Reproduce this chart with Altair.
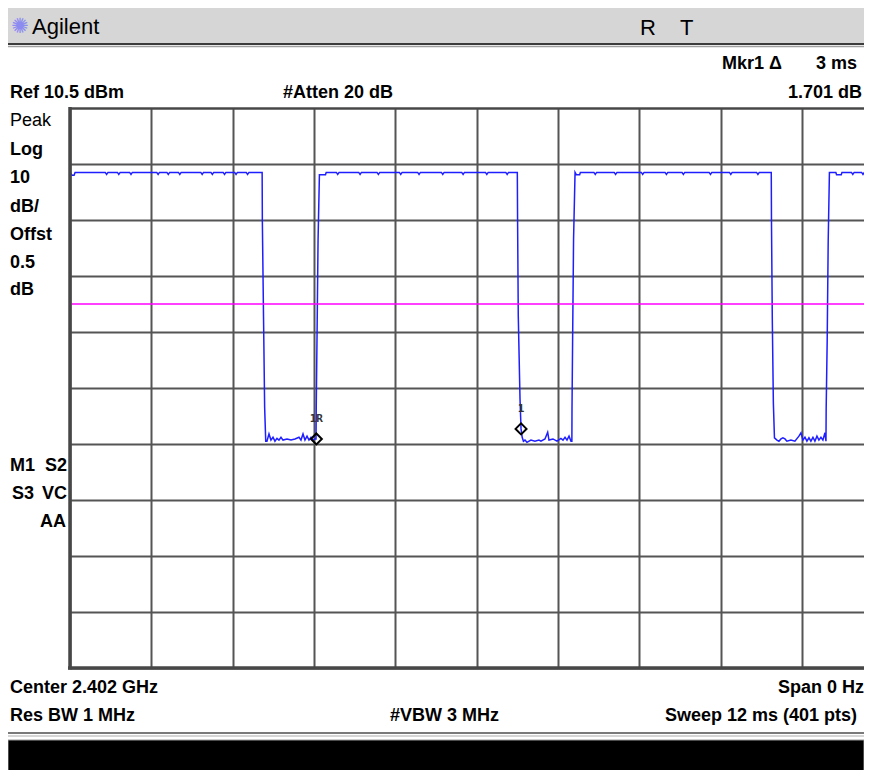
import altair as alt
import pandas as pd

# ---------------- data ----------------
TRACE_MS = [
    0.000, 0.030, 0.060, 0.075, 0.520, 0.540, 0.560, 0.700, 0.720, 0.740,
    0.880, 0.900, 0.920, 1.280, 1.300, 1.320, 1.430, 1.450, 1.470, 1.600,
    1.620, 1.640, 1.930, 1.950, 1.970, 2.080, 2.100, 2.120, 2.260, 2.280,
    2.300, 2.430, 2.450, 2.470, 2.600, 2.620, 2.640, 2.835,
    2.838, 2.856, 2.872, 2.888,
    2.906, 2.936, 2.965, 2.995, 3.024, 3.054, 3.083, 3.113, 3.143, 3.202,
    3.261, 3.320, 3.379, 3.408, 3.438, 3.467, 3.497, 3.526, 3.556, 3.585, 3.615,
    3.630, 3.633, 3.644, 3.660, 3.680,
    3.770, 3.780, 3.930, 3.950, 3.970, 4.260, 4.280, 4.300, 4.530, 4.550,
    4.570, 4.860, 4.880, 4.900, 5.130, 5.150, 5.170, 5.480, 5.500, 5.520,
    5.780, 5.800, 5.820, 6.130, 6.150, 6.170, 6.430, 6.450, 6.470, 6.600,
    6.604, 6.614, 6.640, 6.655, 6.672, 6.690,
    6.713, 6.742, 6.801, 6.860, 6.919, 6.949, 7.008, 7.048, 7.067, 7.126,
    7.185, 7.244, 7.274, 7.304, 7.333, 7.363, 7.392,
    7.405, 7.407, 7.416, 7.430, 7.452,
    7.470, 7.520, 7.530, 7.730, 7.750, 7.770, 8.030, 8.050, 8.070, 8.430,
    8.450, 8.470, 8.780, 8.800, 8.820, 9.030, 9.050, 9.070, 9.430, 9.450,
    9.470, 9.730, 9.750, 9.770, 10.130, 10.150, 10.170, 10.347,
    10.350, 10.362, 10.378, 10.394,
    10.431, 10.460, 10.490, 10.519, 10.549, 10.578, 10.637, 10.696, 10.755,
    10.785, 10.814, 10.844, 10.873, 10.903, 10.932, 10.962, 10.991, 11.021,
    11.050, 11.080, 11.109, 11.139, 11.154,
    11.157, 11.172, 11.187, 11.205,
    11.300, 11.310, 11.380, 11.390, 11.530, 11.550, 11.570, 11.680, 11.700,
    11.720, 11.840,
]
TRACE_DBM = [
    -1.0, -1.5, -1.5, -1.0, -1.0, -1.35, -1.0, -1.0, -1.35, -1.0,
    -1.0, -1.35, -1.0, -1.0, -1.35, -1.0, -1.0, -1.35, -1.0, -1.0,
    -1.35, -1.0, -1.0, -1.35, -1.0, -1.0, -1.35, -1.0, -1.0, -1.35,
    -1.0, -1.0, -1.35, -1.0, -1.0, -1.35, -1.0, -1.0,
    -9.6, -27.3, -43.0, -49.0,
    -49.0, -47.7, -48.8, -48.3, -49.0, -48.5, -48.8, -48.3, -48.8, -48.6,
    -48.8, -48.6, -48.3, -48.8, -47.7, -48.8, -48.1, -48.8, -48.3, -48.8, -48.6,
    -48.6, -43.2, -31.3, -13.1, -1.4,
    -1.4, -1.0, -1.0, -1.35, -1.0, -1.0, -1.35, -1.0, -1.0, -1.35,
    -1.0, -1.0, -1.35, -1.0, -1.0, -1.35, -1.0, -1.0, -1.35, -1.0,
    -1.0, -1.35, -1.0, -1.0, -1.35, -1.0, -1.0, -1.35, -1.0, -1.0,
    -9.5, -26.5, -41.5, -46.8, -48.3, -49.0,
    -48.8, -49.2, -48.8, -49.0, -48.8, -49.0, -48.6, -47.4, -48.8, -48.6,
    -49.0, -48.5, -48.8, -48.3, -48.8, -48.1, -49.0,
    -49.0, -43.0, -30.9, -12.9, -1.0,
    -1.4, -1.4, -1.0, -1.0, -1.35, -1.0, -1.0, -1.35, -1.0, -1.0,
    -1.35, -1.0, -1.0, -1.35, -1.0, -1.0, -1.35, -1.0, -1.0, -1.35,
    -1.0, -1.0, -1.35, -1.0, -1.0, -1.35, -1.0, -1.0,
    -9.5, -27.0, -42.2, -48.4,
    -48.8, -49.0, -48.6, -48.4, -48.6, -49.0, -48.8, -49.0, -48.1,
    -47.5, -48.8, -48.3, -49.0, -48.4, -49.0, -48.3, -49.0, -48.1,
    -48.8, -48.3, -48.8, -47.5, -49.0,
    -43.2, -31.1, -13.3, -1.0,
    -1.0, -1.4, -1.4, -1.0, -1.0, -1.35, -1.0, -1.0, -1.35,
    -1.0, -1.0,
]
DISPLAY_LINE_DBM = [-24.5]
MARKER_MS = [3.635, 6.655]
MARKER_DBM = [-48.6, -46.8]
MARKER_LABELS = ["1R", "1"]

REF_LEVEL_DBM = 10.5
DB_PER_DIV = 10
N_DIV = 10
SWEEP_MS = 12
X_GRID_MS = [0, 1.2, 2.4, 3.6, 4.8, 6.0, 7.2, 8.4, 9.6, 10.8]
Y_GRID_DBM = [10.5, 0.5, -9.5, -19.5, -29.5, -39.5, -49.5, -59.5, -69.5, -79.5, -89.5]

# ---------------- layout (page pixels) ----------------
PX0, PY0 = 70, 108          # plot origin on the page
RIGHT = 864                 # right edge of the drawable page area
W, H = RIGHT - PX0, 560     # visible plot area (grid continues past the right edge)
FULL_W = 813.3              # width of the 10 divisions
X_MAX = SWEEP_MS * W / FULL_W
TOTAL_H = 762

FONT = "Liberation Sans, Arial, sans-serif"
FS = 18
GRID = "#555555"


def rx(x):
    return x - PX0


def ry(y):
    return y - PY0


def label(txt, x, y, align="left", size=FS, weight="bold", font=FONT, color="black"):
    return alt.Chart(pd.DataFrame({"t": [txt]})).mark_text(
        align=align, baseline="middle", font=font, fontSize=size,
        fontWeight=weight, color=color
    ).encode(text="t:N", x=alt.value(rx(x)), y=alt.value(ry(y)))


def box(x1, y1, x2, y2, color, stroke=None):
    kw = {"color": color}
    if stroke:
        kw.update(stroke=stroke, strokeWidth=1)
    return alt.Chart(pd.DataFrame({"k": [0]})).mark_rect(**kw).encode(
        x=alt.value(rx(x1)), x2=alt.value(rx(x2)),
        y=alt.value(ry(y1)), y2=alt.value(ry(y2)))


def hline(x1, x2, y, color, width):
    return alt.Chart(pd.DataFrame({"k": [0]})).mark_rule(color=color, strokeWidth=width).encode(
        x=alt.value(rx(x1)), x2=alt.value(rx(x2)), y=alt.value(ry(y)))


def vline(x, y1, y2, color, width):
    return alt.Chart(pd.DataFrame({"k": [0]})).mark_rule(color=color, strokeWidth=width).encode(
        x=alt.value(rx(x)), y=alt.value(ry(y1)), y2=alt.value(ry(y2)))


trace_df = pd.DataFrame({"ms": TRACE_MS, "dbm": TRACE_DBM})
xs = alt.Scale(domain=[0, X_MAX], nice=False, zero=False)
ys = alt.Scale(domain=[REF_LEVEL_DBM - N_DIV * DB_PER_DIV, REF_LEVEL_DBM], nice=False, zero=False)

x_enc = alt.X("ms:Q", scale=xs, axis=alt.Axis(
    values=X_GRID_MS, grid=True, labels=False, ticks=False, domain=False, title=None,
    gridColor=GRID, gridWidth=2, gridOpacity=1))
y_enc = alt.Y("dbm:Q", scale=ys, axis=alt.Axis(
    values=Y_GRID_DBM, grid=True, labels=False, ticks=False, domain=False, title=None,
    gridColor=GRID, gridWidth=2, gridOpacity=1))

trace = alt.Chart(trace_df).mark_line(color="#1e1eff", strokeWidth=1.5, clip=True).encode(
    x=x_enc, y=y_enc, order="ms:Q")

display_line = alt.Chart(pd.DataFrame({"dbm": DISPLAY_LINE_DBM})).mark_rule(
    color="#ff00ff", strokeWidth=1.5).encode(y=alt.Y("dbm:Q", scale=ys))

mk_df = pd.DataFrame({"ms": MARKER_MS, "dbm": MARKER_DBM, "lab": MARKER_LABELS})
markers = alt.Chart(mk_df).mark_point(
    shape="diamond", filled=False, color="black", strokeWidth=2, size=120, opacity=1
).encode(x=alt.X("ms:Q", scale=xs), y=alt.Y("dbm:Q", scale=ys))
marker_text = alt.Chart(mk_df).mark_text(
    dy=-20, font="DejaVu Sans Mono", fontSize=11, fontWeight="bold", color="#333333"
).encode(x=alt.X("ms:Q", scale=xs), y=alt.Y("dbm:Q", scale=ys), text="lab:N")

# frame
frame = [
    vline(70, 107, 669.5, "#474747", 3.5),
    hline(68, RIGHT, 668, "#474747", 3.5),
    hline(70, RIGHT, 108.5, "#474747", 2),
]

# header and footer
decor = [
    box(8, 8, RIGHT, 43, "#d6d6d6"),
    hline(8, RIGHT, 44, "#3c3c3c", 2),
    hline(8, RIGHT, 46.5, "#a0a0a0", 1.5),
    hline(8, RIGHT, 733, "#7a7a7a", 2),
    hline(8, RIGHT, 736, "#c8c8c8", 1.5),
    box(8, 740, RIGHT, 772, "black", stroke="#9a9a9a"),
]

texts = [
    label("\u273a", 20, 27, align="center", size=21, weight="normal",
          font="DejaVu Sans", color="#8c8cf0"),
    label("Agilent", 32, 27, size=22, weight="normal"),
    label("R", 640, 28, size=22, weight="normal"),
    label("T", 680, 28, size=22, weight="normal"),
    label("Mkr1 \u0394", 722, 64),
    label("3 ms", 857, 64, align="right"),
    label("Ref 10.5 dBm", 10, 93),
    label("#Atten 20 dB", 283, 93),
    label("1.701 dB", 862, 93, align="right"),
    label("Peak", 10, 121, weight="normal"),
    label("Log", 10, 150),
    label("10", 10, 178),
    label("dB/", 10, 207),
    label("Offst", 10, 235),
    label("0.5", 10, 263),
    label("dB", 10, 290),
    label("M1", 10, 466),
    label("S2", 67, 466, align="right"),
    label("S3", 12, 494),
    label("VC", 67, 494, align="right"),
    label("AA", 66, 522, align="right"),
    label("Center 2.402 GHz", 10, 688),
    label("Span 0 Hz", RIGHT, 688, align="right"),
    label("Res BW 1 MHz", 10, 716),
    label("#VBW 3 MHz", 390, 716),
    label("Sweep 12 ms (401 pts)", 857, 716, align="right"),
]

chart = alt.layer(
    *decor, trace, display_line, *frame, markers, marker_text, *texts
).properties(
    width=W, height=H,
    padding={"left": PX0 - 8, "top": PY0 - 8, "right": 0, "bottom": TOTAL_H - (PY0 - 8) - H},
    autosize=alt.AutoSizeParams(type="none"),
    background="white",
).configure_view(stroke=None)

chart.save("out.html", embed_options={"renderer": "svg", "actions": False})
